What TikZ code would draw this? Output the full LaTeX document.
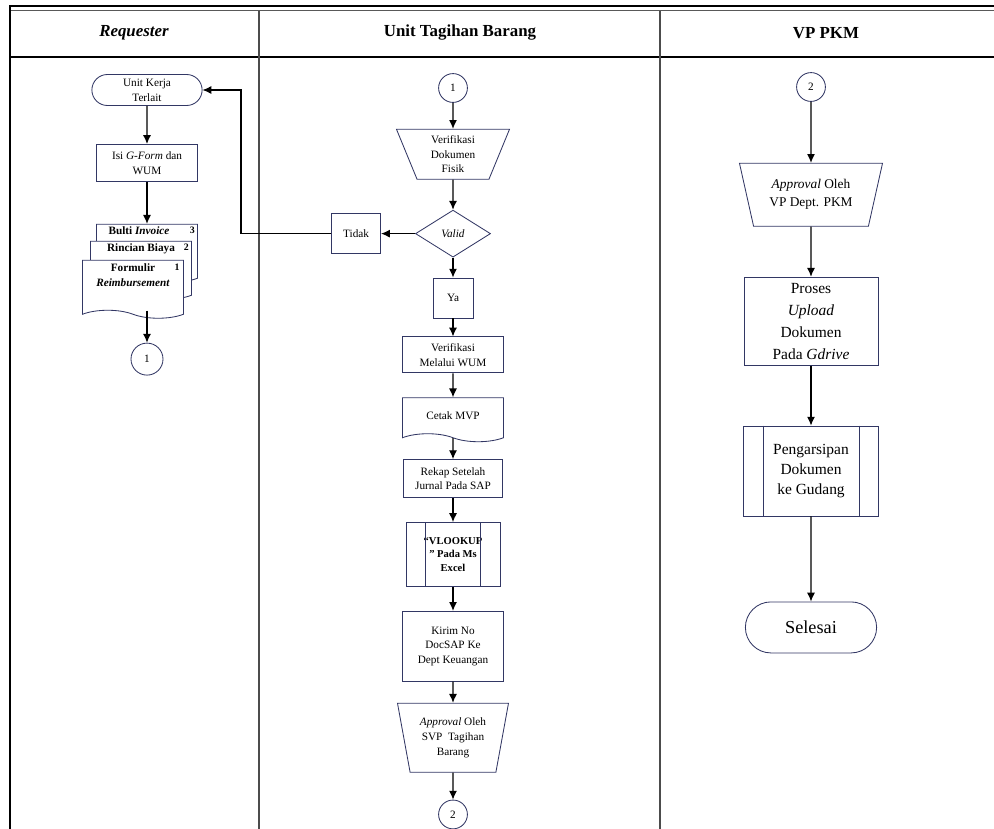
\documentclass[tikz,border=0pt]{standalone}
\usepackage{fontspec}
\setmainfont{Liberation Serif}
\usetikzlibrary{positioning,shapes,arrows.meta}
\definecolor{shapeline}{RGB}{50,55,100}

\begin{document}
\begin{tikzpicture}[x=0.025cm, y=-0.025cm, >={Latex[length=2.2mm,width=2mm]},
        box/.style={draw=shapeline, line width=0.6pt, rectangle, align=center, inner sep=1pt, font=\fontsize{8}{10.5}\selectfont},
        term/.style={box, rounded rectangle},
        conn/.style={box, circle, inner sep=0pt, minimum size=0.72cm},
        manual/.style={box, trapezium, shape border rotate=180, trapezium stretches body=true},
        decide/.style={box, diamond, aspect=1.6, minimum width=1.875cm, minimum height=1.175cm, inner sep=0pt},
        doc/.style={box, fill=white, tape, tape bend top=none, tape bend bottom=out and in, tape bend height=0.2cm},
        predef/.style={box},
        lane/.style={font=\fontsize{12}{14}\selectfont\bfseries},
        flow/.style={->, line width=0.8pt}]
    \useasboundingbox (0,0) rectangle (994,829);

    % swimlane frame
    \draw[line width=1.3pt] (9,6) -- (994,6);
    \draw[gray!70!black, line width=0.7pt] (9,10.5) -- (994,10.5);
    \draw[line width=0.8pt] (9,57) -- (994,57);
    \draw[line width=1.4pt] (10,5.4) -- (10,829);
    \draw[gray!60!black, line width=0.9pt] (259,10.5) -- (259,829);
    \draw[gray!60!black, line width=0.9pt] (660,10.5) -- (660,829);
    \node[lane] (lane-req) at (134,33) {\textit{Requester}};
    \node[lane] (lane-utb) at (460,33) {Unit Tagihan Barang};
    \node[lane] (lane-vp) at (826,33) {VP PKM};

    % Requester
    \node[term, minimum width=2.825cm, minimum height=0.775cm] (unitkerja) at (147,90) {Unit Kerja\\Terlait};
    \node[box, minimum width=2.525cm, minimum height=0.925cm, below=0.95cm of unitkerja] (isi) {Isi \textit{G-Form} dan\\WUM};
    \draw[flow] (unitkerja) -- (isi);
    \node[doc, minimum width=2.525cm, minimum height=1.45cm, below=1.05cm of isi,
        label={[anchor=north, xshift=-0.2cm, inner sep=2pt, font=\fontsize{8}{10}\selectfont]north:\textbf{Bulti \textit{Invoice}}},
        label={[anchor=north east, inner sep=2pt, font=\fontsize{7}{8}\selectfont]north east:\textbf{3}}] (bulti) {};
    \node[doc, minimum width=2.525cm, minimum height=1.45cm,
        label={[anchor=north, inner sep=2pt, font=\fontsize{8}{10}\selectfont]north:\textbf{Rincian Biaya}},
        label={[anchor=north east, inner sep=2pt, font=\fontsize{7}{8}\selectfont]north east:\textbf{2}}] (rincian) at ([xshift=-0.15cm, yshift=-0.425cm]bulti.center) {};
    \node[doc, minimum width=2.525cm, minimum height=1.45cm,
        label={[anchor=north east, inner sep=3pt, font=\fontsize{7}{8}\selectfont]north east:\textbf{1}}] (formulir) at ([xshift=-0.2cm, yshift=-0.475cm]rincian.center) {\textbf{Formulir}\\\textbf{\textit{Reimbursement}}\\[4pt]};
    \draw[flow] (isi) -- (bulti);
    \node[conn, minimum size=0.8cm, below=1.7cm of bulti] (req-satu) {1};
    \draw[flow] (formulir.south -| req-satu.north) -- (req-satu);

    % Unit Tagihan Barang
    \node[conn] (utb-satu) at (453,88) {1};
    \node[manual, minimum width=2.825cm, minimum height=1.25cm, trapezium left angle=63, trapezium right angle=63, below=0.65cm of utb-satu] (verfisik) {Verifikasi\\Dokumen\\Fisik};
    \draw[flow] (utb-satu) -- (verfisik);
    \node[decide, below=0.75cm of verfisik] (valid) {\textit{Valid}};
    \draw[flow] (verfisik) -- (valid);
    \node[box, minimum width=1.225cm, minimum height=1cm, left=0.85cm of valid] (tidak) {Tidak};
    \draw[flow] (valid) -- (tidak);
    \coordinate (balik) at (241,90);
    \draw[flow] (tidak.west) -- (tidak.west -| balik) |- (unitkerja.east);
    \node[box, minimum size=1cm, below=0.5cm of valid] (ya) {Ya};
    \draw[flow] (valid) -- (ya);
    \node[box, minimum width=2.525cm, minimum height=0.9cm, below=0.45cm of ya] (wum) {Verifikasi\\Melalui WUM};
    \draw[flow] (ya) -- (wum);
    \node[doc, minimum width=2.525cm, minimum height=1.1cm, below=0.6cm of wum] (cetak) {Cetak MVP};
    \draw[flow] (wum) -- (cetak);
    \node[box, minimum width=2.475cm, minimum height=0.95cm, below=0.625cm of cetak] (rekap) {Rekap Setelah\\Jurnal Pada SAP};
    \draw[flow] (cetak) -- (rekap);
    \node[predef, minimum width=2.35cm, minimum height=1.6cm, below=0.6cm of rekap, font=\fontsize{7.5}{9.5}\selectfont\bfseries] (vlookup) {``VLOOKUP\\'' Pada Ms\\Excel};
    \draw[flow] (rekap) -- (vlookup);
    \node[box, minimum width=2.525cm, minimum height=1.75cm, below=0.6cm of vlookup] (kirim) {Kirim No\\DocSAP Ke\\Dept Keuangan};
    \draw[flow] (vlookup) -- (kirim);
    \node[manual, minimum width=2.775cm, minimum height=1.725cm, trapezium left angle=73.5, trapezium right angle=73.5, below=0.525cm of kirim] (approvsvp) {\textit{Approval} Oleh\\SVP\ \ Tagihan\\Barang};
    \draw[flow] (kirim) -- (approvsvp);
    \node[conn, below=0.675cm of approvsvp] (utb-dua) {2};
    \draw[flow] (approvsvp) -- (utb-dua);

    % VP PKM
    \node[conn] (vp-dua) at (811,87) {2};
    \node[manual, minimum width=3.575cm, minimum height=1.575cm, trapezium left angle=66.8, trapezium right angle=66.8, below=1.525cm of vp-dua, font=\fontsize{9.5}{12.8}\selectfont] (approvvp) {\textit{Approval} Oleh\\VP Dept. PKM};
    \draw[flow] (vp-dua) -- (approvvp);
    \node[box, minimum width=3.35cm, minimum height=2.2cm, below=1.25cm of approvvp, font=\fontsize{11}{15.6}\selectfont] (upload) {Proses\\\textit{Upload}\\Dokumen\\Pada \textit{Gdrive}};
    \draw[flow] (approvvp) -- (upload);
    \node[predef, minimum width=3.375cm, minimum height=2.25cm, below=1.5cm of upload, font=\fontsize{11}{14.5}\selectfont] (arsip) {Pengarsipan\\Dokumen\\ke Gudang};
    \draw[flow] (upload) -- (arsip);
    \node[term, minimum width=3.35cm, minimum height=1.275cm, below=2.125cm of arsip, font=\fontsize{13}{15}\selectfont] (selesai) {Selesai};
    \draw[flow] (arsip) -- (selesai);

    % sub-process side bars
    \foreach \n in {vlookup, arsip} {
        \draw[shapeline, line width=0.6pt] ([xshift=0.5cm]\n.north west) -- ([xshift=0.5cm]\n.south west);
        \draw[shapeline, line width=0.6pt] ([xshift=-0.5cm]\n.north east) -- ([xshift=-0.5cm]\n.south east);
    }
\end{tikzpicture}
\end{document}
